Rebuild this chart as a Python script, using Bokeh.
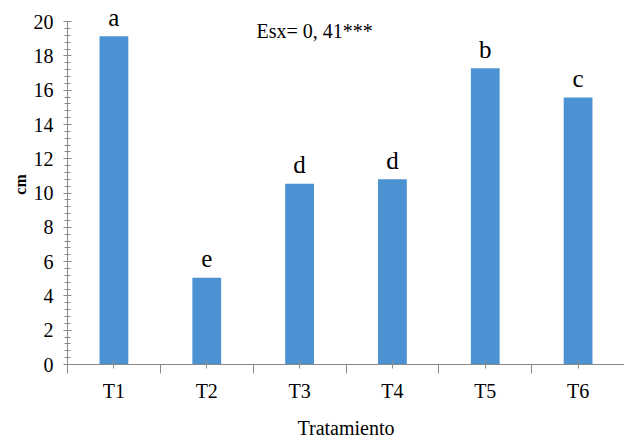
from bokeh.plotting import figure
from bokeh.models import FixedTicker, Label, ColumnDataSource
from bokeh.core.properties import value
from bokeh.embed import file_html
from bokeh.resources import INLINE

categories = ["T1", "T2", "T3", "T4", "T5", "T6"]
values = [19.15, 5.06, 10.55, 10.8, 17.28, 15.58]
letters = ["a", "e", "d", "d", "b", "c"]
y_ticks = [0, 2, 4, 6, 8, 10, 12, 14, 16, 18, 20]
annotation = "Esx= 0, 41***"

FONT = "Liberation Serif"
BAR = "#4b92d2"
AXIS = "#8a8a8a"

xs = list(range(1, len(categories) + 1))
src = ColumnDataSource(dict(x=xs, top=values, lab=letters))

p = figure(width=624, height=441, x_range=(0.5, len(categories) + 0.5), y_range=(0, 21),
           output_backend="svg", toolbar_location=None,
           min_border_left=67, min_border_right=0, min_border_top=4, min_border_bottom=77)
p.outline_line_color = None
p.xgrid.grid_line_color = None
p.ygrid.grid_line_color = None
p.background_fill_color = "white"

p.vbar(x="x", top="top", width=0.31, source=src, fill_color=BAR, line_color=None)
p.text(x="x", y="top", text="lab", source=src, y_offset=-19, text_align="center",
       text_baseline="middle", text_font=value(FONT), text_font_size="25px",
       text_color="black")

# x axis
p.xaxis.ticker = FixedTicker(ticks=xs, minor_ticks=[i + 0.5 for i in range(0, len(categories) + 1)])
p.xaxis.major_label_overrides = {x: c for x, c in zip(xs, categories)}
p.xaxis.major_tick_in = 4
p.xaxis.major_tick_out = 4
p.xaxis.minor_tick_in = 0
p.xaxis.minor_tick_out = 9
p.xaxis.major_label_standoff = 6
p.xaxis.axis_label = "Tratamiento"
p.xaxis.axis_label_standoff = 12
p.xaxis.axis_label_text_font = FONT
p.xaxis.axis_label_text_font_style = "normal"
p.xaxis.axis_label_text_font_size = "20px"
p.xaxis.major_label_text_font = FONT
p.xaxis.major_label_text_font_size = "20px"

# y axis
p.yaxis.ticker = FixedTicker(ticks=y_ticks, minor_ticks=[i * 0.4 for i in range(0, 51)])
p.yaxis.bounds = (0, 20)
p.yaxis.major_tick_in = 4
p.yaxis.major_tick_out = 4
p.yaxis.minor_tick_in = 3
p.yaxis.minor_tick_out = 3
p.yaxis.major_label_standoff = 10
p.yaxis.axis_label = "cm"
p.yaxis.axis_label_standoff = 2
p.yaxis.axis_label_text_font = FONT
p.yaxis.axis_label_text_font_style = "bold"
p.yaxis.axis_label_text_font_size = "16px"
p.yaxis.major_label_text_font = FONT
p.yaxis.major_label_text_font_size = "20px"

for ax in (p.xaxis, p.yaxis):
    ax.axis_line_color = AXIS
    ax.major_tick_line_color = AXIS
    ax.minor_tick_line_color = AXIS
    ax.major_label_text_color = "black"
    ax.axis_label_text_color = "black"

p.add_layout(Label(x=2.536, y=19.43, text=annotation, text_baseline="middle",
                   text_font=FONT, text_font_size="20px", text_color="black"))

open("out.html", "w").write(file_html(p, INLINE))
